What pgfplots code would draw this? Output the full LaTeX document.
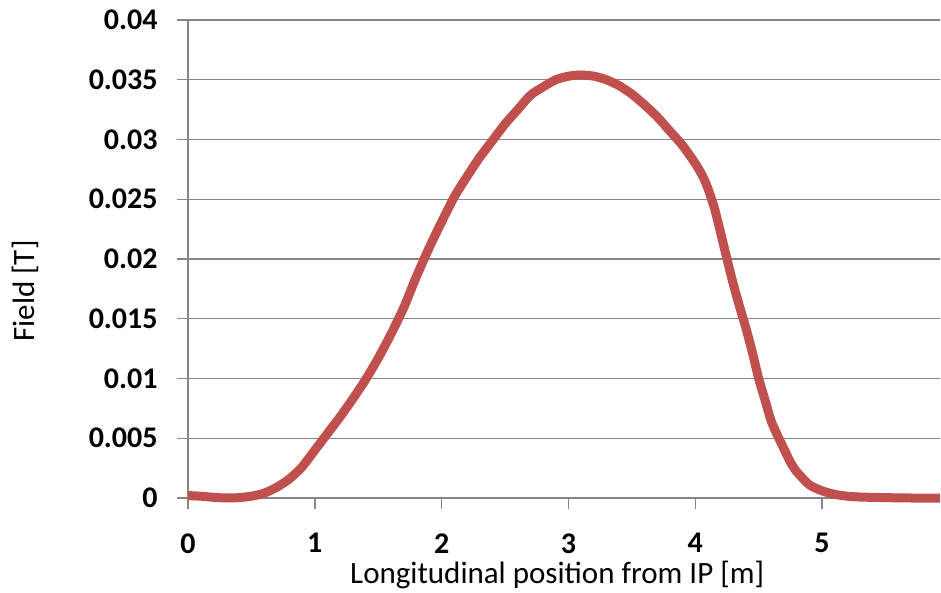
\documentclass[border=0pt]{standalone}
\usepackage{pgfplots}
\pgfplotsset{compat=1.18}
\usepackage{fontspec}
\setmainfont{Carlito}
\usetikzlibrary{calc}
\definecolor{exred}{HTML}{C0504D}
\definecolor{exgrid}{HTML}{868686}
\pgfplotstableread{
x y
0.00 0.00020
0.10 0.00015
0.20 0.00006
0.30 0.00000
0.40 0.00003
0.50 0.00015
0.60 0.00040
0.70 0.00090
0.80 0.00160
0.90 0.00260
1.00 0.00400
1.10 0.00540
1.20 0.00680
1.30 0.00830
1.40 0.00990
1.50 0.01170
1.60 0.01370
1.70 0.01590
1.80 0.01850
1.90 0.02090
2.00 0.02310
2.10 0.02520
2.20 0.02690
2.30 0.02850
2.40 0.02990
2.50 0.03130
2.60 0.03250
2.70 0.03370
2.80 0.03440
2.90 0.03500
3.00 0.03530
3.10 0.03540
3.20 0.03530
3.30 0.03500
3.40 0.03450
3.50 0.03380
3.60 0.03290
3.70 0.03190
3.80 0.03070
3.90 0.02950
4.00 0.02800
4.06 0.02690
4.10 0.02590
4.15 0.02430
4.20 0.02220
4.25 0.02000
4.30 0.01790
4.35 0.01600
4.40 0.01420
4.45 0.01220
4.50 0.01000
4.55 0.00820
4.60 0.00640
4.65 0.00520
4.70 0.00410
4.75 0.00300
4.80 0.00220
4.90 0.00110
5.00 0.00060
5.10 0.00030
5.20 0.00015
5.30 0.00008
5.50 0.00003
5.70 0.00000
5.93 0.00000
}\fielddata
\begin{document}
\begin{tikzpicture}
\begin{axis}[
  name=ax,
  scale only axis,
  width=376pt, height=239pt,
  xmin=0, xmax=5.93,
  ymin=0, ymax=0.04,
  axis x line*=bottom,
  axis y line*=left,
  axis line style={exgrid, line width=0.7pt},
  xtick={0,1,2,3,4,5},
  xticklabels={0,1,2,3,4,5},
  ytick={0,0.005,0.01,0.015,0.02,0.025,0.03,0.035,0.04},
  yticklabels={0,0.005,0.01,0.015,0.02,0.025,0.03,0.035,0.04},
  scaled y ticks=false,
  tick align=outside,
  major tick length=5.5pt,
  tick style={exgrid, line width=0.7pt},
  ymajorgrids,
  grid style={exgrid, line width=0.7pt},
  ticklabel style={font=\fontsize{15}{18}\selectfont\bfseries},
  yticklabel style={anchor=east, inner sep=0pt, xshift=-9.5pt},
  xticklabel style={anchor=north, inner sep=0pt, yshift=-12pt},
  xlabel={Longitudinal position from IP [m]},
  ylabel={Field [T]},
  label style={font=\fontsize{15.5}{18}\selectfont},
  xlabel style={at={(axis description cs:0.491,0)}, anchor=center, yshift=-38.5pt},
  ylabel style={at={(axis description cs:-0.216,0.433)}, anchor=center},
  clip=false,
]
\addplot[exred, line width=4.5pt, line join=round, smooth, tension=0.4] table[x=x,y=y]{\fielddata};
\end{axis}
\pgfresetboundingbox
\path ($(ax.south west)+(-94pt,-47.5pt)$) rectangle ($(ax.north east)+(0.5pt,10pt)$);
\end{tikzpicture}
\end{document}
